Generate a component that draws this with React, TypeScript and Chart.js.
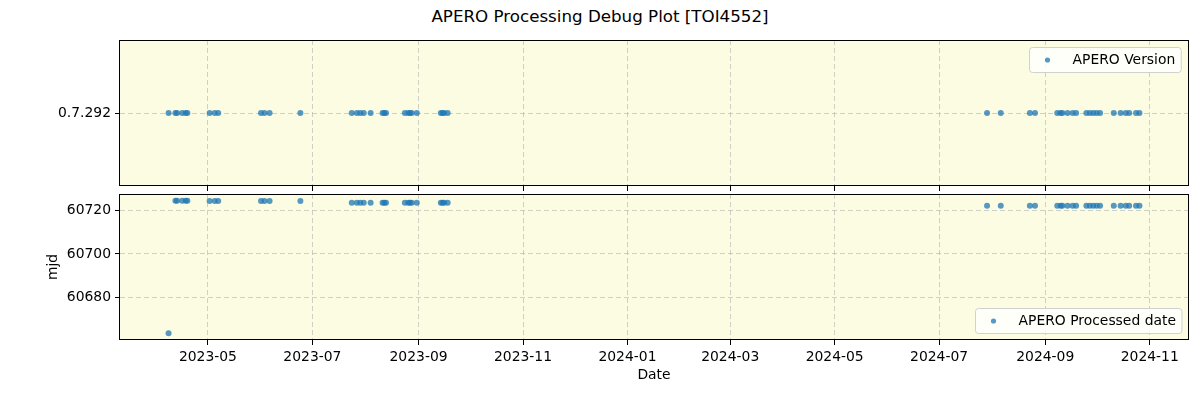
import React, { useEffect, useRef } from 'react';
import { Chart, registerables } from 'chart.js';

Chart.register(...registerables);

// ---------- data ----------
const obsDates = [
  '2023-04-08', '2023-04-12', '2023-04-13', '2023-04-16', '2023-04-18', '2023-04-19',
  '2023-05-02', '2023-05-05', '2023-05-07',
  '2023-06-01', '2023-06-03', '2023-06-06', '2023-06-24',
  '2023-07-24', '2023-07-27', '2023-07-29', '2023-07-31', '2023-08-04',
  '2023-08-11', '2023-08-12', '2023-08-13',
  '2023-08-24', '2023-08-26', '2023-08-27', '2023-08-28', '2023-08-31',
  '2023-09-14', '2023-09-15', '2023-09-16', '2023-09-18',
  '2024-07-29', '2024-08-06', '2024-08-23', '2024-08-26',
  '2024-09-08', '2024-09-10', '2024-09-11', '2024-09-14', '2024-09-17', '2024-09-19',
  '2024-09-25', '2024-09-27', '2024-09-29', '2024-10-01', '2024-10-03',
  '2024-10-11', '2024-10-15', '2024-10-18', '2024-10-20', '2024-10-24', '2024-10-26',
];

const versionLabels = ['0.7.292'];
const versionValues = obsDates.map(() => '0.7.292');

const processedMjd = [
  60663.4, 60724.6, 60724.6, 60724.6, 60724.6, 60724.6,
  60724.4, 60724.4, 60724.4,
  60724.4, 60724.4, 60724.4, 60724.4,
  60723.6, 60723.6, 60723.6, 60723.6, 60723.6,
  60723.6, 60723.6, 60723.6,
  60723.6, 60723.6, 60723.6, 60723.6, 60723.6,
  60723.6, 60723.6, 60723.6, 60723.6,
  60722.2, 60722.2, 60722.2, 60722.2,
  60722.2, 60722.2, 60722.2, 60722.2, 60722.2, 60722.2,
  60722.2, 60722.2, 60722.2, 60722.2, 60722.2,
  60722.2, 60722.2, 60722.2, 60722.2, 60722.2, 60722.2,
];

const xTickMonths = [
  '2023-05', '2023-07', '2023-09', '2023-11', '2024-01',
  '2024-03', '2024-05', '2024-07', '2024-09', '2024-11',
];
const mjdTicks = [60680, 60700, 60720];

const titleText = 'APERO Processing Debug Plot [TOI4552]';
const topLegend = 'APERO Version';
const bottomLegend = 'APERO Processed date';
const yTitle = 'mjd';
const xTitle = 'Date';

// ---------- styling ----------
const FONT = '"DejaVu Sans", sans-serif';
const FS = 13.9;
const POINT = 'rgba(31,119,180,0.75)';
const BG = '#fcfce3';
const GRID = 'rgba(176,176,176,0.6)';

const xVals = obsDates.map((d) => Date.parse(d));
const xMinData = Math.min(...xVals);
const xMaxData = Math.max(...xVals);
const xPad = (xMaxData - xMinData) * 0.05;
const yMinData = Math.min(...processedMjd);
const yMaxData = Math.max(...processedMjd);
const yPad = (yMaxData - yMinData) * 0.05;

const fmtMonth = (v: number) => {
  const d = new Date(v);
  return `${d.getUTCFullYear()}-${String(d.getUTCMonth() + 1).padStart(2, '0')}`;
};

const zeroPad = (s: any) => {
  s.paddingTop = 0;
  s.paddingBottom = 0;
  s.paddingLeft = 0;
  s.paddingRight = 0;
};

const mplPlugin = {
  id: 'mpl',
  beforeDraw(chart: any) {
    const { ctx, chartArea: a } = chart;
    ctx.save();
    ctx.fillStyle = BG;
    ctx.fillRect(a.left, a.top, a.right - a.left, a.bottom - a.top);
    ctx.restore();
  },
  afterDraw(chart: any, _args: any, opts: any) {
    const { ctx, chartArea: a } = chart;
    ctx.save();
    ctx.strokeStyle = '#000';
    ctx.lineWidth = 1;
    ctx.strokeRect(Math.round(a.left) - 0.5, Math.round(a.top) + 0.5, Math.round(a.right - a.left) + 1, Math.round(a.bottom - a.top) - 1);
    if (opts && opts.text) {
      ctx.font = `${FS}px ${FONT}`;
      const tw = ctx.measureText(opts.text).width;
      const w = 43 + tw + 6;
      const h = 25;
      const x = Math.round(a.right - 7 - w) + 0.5;
      const y = (opts.pos === 'bottom' ? Math.round(a.bottom - 7 - h) : Math.round(a.top + 7)) + 0.5;
      ctx.beginPath();
      (ctx as any).roundRect(x, y, w, h, 3);
      ctx.fillStyle = 'rgba(255,255,255,0.8)';
      ctx.fill();
      ctx.strokeStyle = 'rgba(204,204,204,0.9)';
      ctx.stroke();
      ctx.beginPath();
      ctx.arc(x + 18, y + h / 2, 2.6, 0, Math.PI * 2);
      ctx.fillStyle = POINT;
      ctx.fill();
      ctx.fillStyle = '#000';
      ctx.textBaseline = 'middle';
      ctx.textAlign = 'left';
      ctx.fillText(opts.text, x + 43, y + h / 2 + 0.5);
    }
    ctx.restore();
  },
};

const xScaleBase = (showLabels: boolean, fitHeight: number) => ({
  type: 'linear',
  min: xMinData - xPad,
  max: xMaxData + xPad,
  afterBuildTicks: (s: any) => {
    s.ticks = xTickMonths.map((m) => ({ value: Date.parse(m + '-01') }));
  },
  afterFit: (s: any) => {
    s.height = fitHeight;
    zeroPad(s);
  },
  ticks: {
    display: showLabels,
    autoSkip: false,
    maxRotation: 0,
    minRotation: 0,
    padding: 4,
    color: '#000',
    font: { family: FONT, size: FS },
    callback: (v: any) => fmtMonth(Number(v)),
  },
  grid: {
    color: GRID,
    lineWidth: 1,
    drawTicks: true,
    tickLength: 5,
    tickColor: '#000',
    tickWidth: 1,
    tickBorderDash: [],
  },
  border: { display: false, dash: [5, 3] },
  title: showLabels
    ? { display: true, text: xTitle, color: '#000', font: { family: FONT, size: FS }, padding: { top: 0, bottom: 16.7 } }
    : { display: false },
});

function TopChart() {
  const ref = useRef<HTMLCanvasElement>(null);
  useEffect(() => {
    const chart = new Chart(ref.current as HTMLCanvasElement, {
      type: 'scatter',
      data: {
        datasets: [
          {
            label: topLegend,
            data: xVals.map((x, i) => ({ x, y: versionValues[i] })) as any,
            backgroundColor: POINT,
            borderWidth: 0,
            pointRadius: 3,
          },
        ],
      },
      options: {
        animation: false,
        responsive: false,
        devicePixelRatio: 1,
        events: [],
        layout: { padding: { top: 10, right: 12, left: 0, bottom: 0 } },
        plugins: { legend: { display: false }, tooltip: { enabled: false }, mpl: { text: topLegend, pos: 'top' } } as any,
        scales: {
          x: xScaleBase(false, 9) as any,
          y: {
            type: 'category',
            labels: versionLabels,
            offset: true,
            afterFit: (s: any) => {
              s.width = 120;
              zeroPad(s);
            },
            ticks: { padding: 4, color: '#000', font: { family: FONT, size: FS } },
            grid: {
              offset: false,
              color: GRID,
              drawTicks: true,
              tickLength: 5,
              tickColor: '#000',
              tickWidth: 1,
              tickBorderDash: [],
            },
            border: { display: false, dash: [5, 3] },
          } as any,
        },
      },
      plugins: [mplPlugin],
    });
    return () => chart.destroy();
  }, []);
  return <canvas ref={ref} width={1200} height={165} style={{ position: 'absolute', left: 0, top: 30, width: 1200, height: 165 }} />;
}

function BottomChart() {
  const ref = useRef<HTMLCanvasElement>(null);
  useEffect(() => {
    const chart = new Chart(ref.current as HTMLCanvasElement, {
      type: 'scatter',
      data: {
        datasets: [
          {
            label: bottomLegend,
            data: xVals.map((x, i) => ({ x, y: processedMjd[i] })),
            backgroundColor: POINT,
            borderWidth: 0,
            pointRadius: 3,
          },
        ],
      },
      options: {
        animation: false,
        responsive: false,
        devicePixelRatio: 1,
        events: [],
        layout: { padding: { top: 4, right: 12, left: 0, bottom: 0 } },
        plugins: { legend: { display: false }, tooltip: { enabled: false }, mpl: { text: bottomLegend, pos: 'bottom' } } as any,
        scales: {
          x: xScaleBase(true, 60) as any,
          y: {
            type: 'linear',
            min: yMinData - yPad,
            max: yMaxData + yPad,
            afterBuildTicks: (s: any) => {
              s.ticks = mjdTicks.map((v) => ({ value: v }));
            },
            afterFit: (s: any) => {
              s.width = 120;
              zeroPad(s);
            },
            ticks: {
              padding: 4,
              color: '#000',
              font: { family: FONT, size: FS },
              callback: (v: any) => String(v),
            },
            grid: {
              color: GRID,
              drawTicks: true,
              tickLength: 5,
              tickColor: '#000',
              tickWidth: 1,
              tickBorderDash: [],
            },
            border: { display: false, dash: [5, 3] },
            title: { display: true, text: yTitle, color: '#000', font: { family: FONT, size: FS }, padding: { top: 45, bottom: 0 } },
          } as any,
        },
      },
      plugins: [mplPlugin],
    });
    return () => chart.destroy();
  }, []);
  return <canvas ref={ref} width={1200} height={210} style={{ position: 'absolute', left: 0, top: 190, width: 1200, height: 210 }} />;
}

export default function App() {
  return (
    <div style={{ position: 'absolute', left: 0, top: 0, width: 1200, height: 400, background: '#fff', overflow: 'hidden' }}>
      <div
        style={{
          position: 'absolute',
          left: 0,
          top: 6,
          width: 1200,
          textAlign: 'center',
          fontFamily: FONT,
          fontSize: 16.7,
          lineHeight: '20px',
          color: '#000',
        }}
      >
        {titleText}
      </div>
      <TopChart />
      <BottomChart />
    </div>
  );
}
